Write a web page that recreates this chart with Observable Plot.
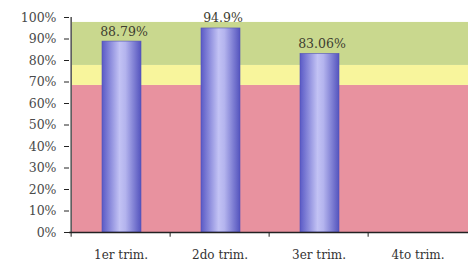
<!DOCTYPE html>
<html>
<head>
<meta charset="utf-8">
<script src="https://cdn.jsdelivr.net/npm/d3@7"></script>
<script src="https://cdn.jsdelivr.net/npm/@observablehq/plot@0.6"></script>
<style>
  html, body { margin: 0; padding: 0; background: #fff; }
  #chart svg { display: block; }
</style>
</head>
<body>
<div id="chart"></div>
<script>
// Data
const categories = ["1er trim.", "2do trim.", "3er trim.", "4to trim."];
const values = [0.8879, 0.949, 0.8306];
const valueLabels = ["88.79%", "94.9%", "83.06%"];
const bandLows = [0, 0.684, 0.777];
const bandHighs = [0.684, 0.777, 0.977];
const bandColors = ["#e8929f", "#f8f59c", "#c9d88e"];
const yTicks = [0, 0.1, 0.2, 0.3, 0.4, 0.5, 0.6, 0.7, 0.8, 0.9, 1.0];

const bars = values.map((v, i) => ({cat: categories[i], value: v, label: valueLabels[i]}));
const bands = bandLows.map((lo, i) => ({lo, hi: bandHighs[i], color: bandColors[i]}));

const W = 470, H = 261, mL = 69, mR = 2;
const step = (W - mL - mR) / categories.length;
const serif = "'DejaVu Serif', 'Liberation Serif', serif";

const chart = Plot.plot({
  width: W,
  height: H,
  marginLeft: mL,
  marginRight: mR,
  marginTop: 17,
  marginBottom: 29,
  style: {fontFamily: serif, fontSize: "13px", color: "#444", background: "#fff"},
  x: {domain: categories, padding: 0, label: null},
  y: {domain: [0, 1], label: null},
  marks: [
    Plot.rect(bands, {y1: "lo", y2: "hi", fill: "color", insetLeft: 3}),
    Plot.barY(bars, {x: "cat", y: "value", fill: "url(#barGrad)", insetLeft: 31, insetRight: 29, stroke: "#5252b8", strokeWidth: 0.6}),
    Plot.text(bars, {x: "cat", y: "value", text: "label", dy: -10, dx: 3, fill: "#3d3d30", fontSize: 12.5}),
    Plot.axisY({ticks: yTicks, tickFormat: d3.format(".0%"), tickSize: 5, tickPadding: 8, stroke: "#222", fill: "#4a4a4a", fontSize: 12.5}),
    Plot.axisX({tickSize: 0, tickPadding: 18, fill: "#333", fontSize: 12}),
    Plot.ruleX(categories, {x: d => d, y1: 0, y2: -0.022, dx: -step / 2, stroke: "#222"}),
    Plot.ruleY([0], {stroke: "#222", strokeWidth: 1.3}),
    Plot.ruleX(categories.slice(0, 1), {x: d => d, y1: 0, y2: 1, dx: -step / 2, stroke: "#222", strokeWidth: 1.2})
  ]
});

const defs = d3.select(chart).insert("defs", ":first-child");
const g = defs.append("linearGradient").attr("id", "barGrad").attr("x1", "0").attr("x2", "1").attr("y1", "0").attr("y2", "0");
g.append("stop").attr("offset", "0").attr("stop-color", "#5a5ac6");
g.append("stop").attr("offset", "0.45").attr("stop-color", "#c2c2f4");
g.append("stop").attr("offset", "0.6").attr("stop-color", "#b4b4ee");
g.append("stop").attr("offset", "1").attr("stop-color", "#5454be");

document.getElementById("chart").appendChild(chart);
</script>
</body>
</html>
